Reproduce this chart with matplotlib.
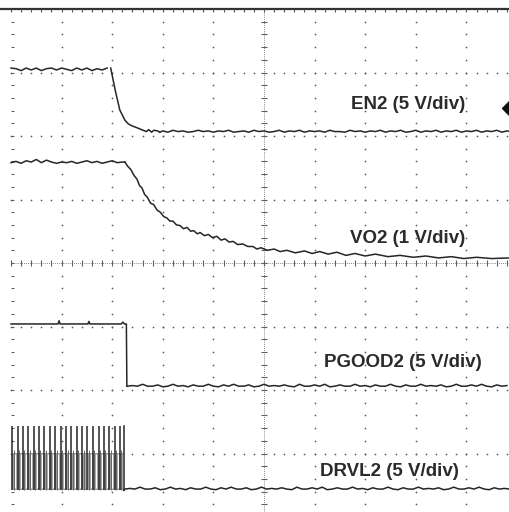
import matplotlib.pyplot as plt
import numpy as np

# scope screen: 10 x 8 divisions, values below are in divisions
# EN2 trace
en2_high = [7.07, 7.06, 7.03, 7.07, 7.04, 7.07, 7.03, 7.06, 7.07, 7.04,
            7.07, 7.05, 7.03, 7.07, 7.04, 7.07, 7.03, 7.06, 7.04, 7.07]
en2_edge_t = [1.97, 2.06, 2.15, 2.25, 2.32, 2.39, 2.49, 2.55, 2.61, 2.68, 2.72, 2.78, 2.82, 2.90, 2.94]
en2_edge_v = [7.07, 6.72, 6.41, 6.25, 6.19, 6.16, 6.13, 6.11, 6.09, 6.07, 6.10, 6.06, 6.09, 6.08, 6.06]
en2_low = [6.08, 6.06, 6.09, 6.07, 6.08, 6.06, 6.07, 6.09, 6.07, 6.08,
           6.06, 6.08, 6.07, 6.09, 6.06, 6.07, 6.08, 6.06, 6.09, 6.07,
           6.08, 6.06, 6.07, 6.09, 6.06, 6.08, 6.07, 6.09, 6.06, 6.08,
           6.07, 6.08, 6.06, 6.09, 6.07, 6.07, 6.06, 6.09, 6.07, 6.08,
           6.06, 6.08, 6.07, 6.09, 6.06, 6.08, 6.07, 6.09, 6.06, 6.07,
           6.09, 6.06, 6.08, 6.07, 6.09, 6.06, 6.08, 6.07, 6.09, 6.06,
           6.08, 6.07, 6.09, 6.06, 6.08, 6.07, 6.09, 6.06, 6.08, 6.07]

# VO2 trace
vo2_high = [5.58, 5.60, 5.57, 5.61, 5.59, 5.63, 5.58, 5.62, 5.59, 5.57, 5.59, 5.58,
            5.60, 5.57, 5.59, 5.61, 5.58, 5.60, 5.57, 5.59, 5.61, 5.58, 5.59]
vo2_fall_t = [2.25, 2.31, 2.37, 2.43, 2.49, 2.54, 2.59, 2.64, 2.69, 2.76, 2.82, 2.89, 2.95,
              3.02, 3.08, 3.14, 3.20, 3.27, 3.34, 3.41, 3.48, 3.55, 3.61, 3.68, 3.74, 3.82,
              3.90, 3.98, 4.07, 4.15, 4.23, 4.31, 4.39, 4.48, 4.58, 4.68, 4.78, 4.86, 4.94,
              5.07, 5.20, 5.32, 5.45, 5.62, 5.80, 5.95, 6.10, 6.27, 6.44, 6.62, 6.80, 7.00,
              7.20, 7.45, 7.69, 7.95, 8.20, 8.45, 8.70, 8.95, 9.20, 9.50, 9.85]
vo2_fall_v = [5.59, 5.52, 5.47, 5.38, 5.32, 5.22, 5.18, 5.08, 5.04, 4.94, 4.92, 4.83, 4.80,
              4.73, 4.71, 4.66, 4.66, 4.60, 4.59, 4.54, 4.56, 4.50, 4.51, 4.46, 4.48, 4.43,
              4.45, 4.40, 4.42, 4.36, 4.38, 4.33, 4.34, 4.29, 4.30, 4.26, 4.26, 4.22, 4.24,
              4.20, 4.22, 4.18, 4.20, 4.16, 4.19, 4.15, 4.18, 4.14, 4.17, 4.12, 4.15, 4.11,
              4.14, 4.10, 4.12, 4.09, 4.11, 4.08, 4.10, 4.07, 4.09, 4.07, 4.08]

# PGOOD2 trace
pg_high_t = [0.00, 0.93, 0.95, 0.97, 1.52, 1.54, 1.56, 2.18, 2.21, 2.24, 2.28, 2.29]
pg_high_v = [3.04, 3.04, 3.09, 3.04, 3.04, 3.08, 3.04, 3.04, 3.07, 3.04, 3.04, 2.06]
pg_low = [2.06, 2.07, 2.06, 2.09, 2.06, 2.06, 2.08, 2.05, 2.06, 2.09,
          2.06, 2.07, 2.05, 2.08, 2.06, 2.06, 2.09, 2.06, 2.05, 2.08,
          2.06, 2.09, 2.06, 2.06, 2.08, 2.05, 2.06, 2.09, 2.06, 2.07,
          2.06, 2.08, 2.06, 2.05, 2.09, 2.06, 2.06, 2.08, 2.06, 2.09,
          2.05, 2.06, 2.08, 2.06, 2.06, 2.09, 2.06, 2.07, 2.05, 2.08,
          2.06, 2.06, 2.09, 2.06, 2.05, 2.08, 2.06, 2.06, 2.09, 2.06,
          2.07, 2.06, 2.08, 2.05, 2.06, 2.09, 2.06, 2.06, 2.08, 2.06,
          2.09, 2.06, 2.05, 2.08, 2.06, 2.07]

# DRVL2 trace: switching pulses then low
drvl_pulses = [0.02, 0.13, 0.23, 0.34, 0.45, 0.55, 0.66, 0.77, 0.87, 0.98, 1.09,
               1.19, 1.30, 1.41, 1.51, 1.62, 1.73, 1.83, 1.94, 2.05, 2.15]
drvl_high, drvl_mid, drvl_base = 1.43, 1.00, 0.42
drvl_low = [0.44, 0.45, 0.44, 0.47, 0.44, 0.44, 0.46, 0.43, 0.44, 0.47,
            0.44, 0.45, 0.43, 0.46, 0.44, 0.44, 0.47, 0.44, 0.43, 0.46,
            0.44, 0.47, 0.44, 0.44, 0.46, 0.43, 0.44, 0.47, 0.44, 0.45,
            0.44, 0.46, 0.44, 0.43, 0.47, 0.44, 0.44, 0.46, 0.44, 0.47,
            0.43, 0.44, 0.46, 0.44, 0.44, 0.47, 0.44, 0.45, 0.43, 0.46,
            0.44, 0.44, 0.47, 0.44, 0.43, 0.46, 0.44, 0.44, 0.47, 0.44,
            0.45, 0.44, 0.46, 0.43, 0.44, 0.47, 0.44, 0.44, 0.46, 0.44,
            0.47, 0.44, 0.43, 0.46, 0.44, 0.45, 0.44]

labels = ['EN2 (5 V/div)', 'VO2 (1 V/div)', 'PGOOD2 (5 V/div)', 'DRVL2 (5 V/div)']
label_x = [7.85, 7.83, 7.74, 7.47]
label_y = [6.50, 4.39, 2.44, 0.72]

DT = 0.1  # sample step of the flat segments
TRACE = '#262626'
DOT = '#5e5e5e'

W, H = 509, 512
fig = plt.figure(figsize=(W / 100, H / 100), dpi=100)
ax = fig.add_axes([0, 0, 1, 1])
ax.set_xlim(-11 / 50.6, (W - 11) / 50.6)
ax.set_ylim(8 - (H - 9) / 63.5, 8 + 9 / 63.5)
ax.axis('off')

# graticule
mx = np.arange(0, 10.01, 0.2)
my = np.arange(0, 8.01, 0.2)
for gx in [1, 2, 3, 4, 6, 7, 8, 9]:
    ax.scatter(np.full_like(my, gx), my, s=1.6, color=DOT, lw=0, zorder=1)
for gy in [1, 2, 3, 5, 6, 7]:
    ax.scatter(mx, np.full_like(mx, gy), s=1.6, color=DOT, lw=0, zorder=1)
ax.plot([5, 5], [0, 8], color=DOT, lw=0.6, ls=(0, (1, 1.5)), zorder=1)
ax.plot([0, 10], [4, 4], color=DOT, lw=0.6, ls=(0, (1, 1.5)), zorder=1)
ax.hlines(my, 4.94, 5.06, color=DOT, lw=0.8, zorder=1)
ax.vlines(mx, 3.95, 4.05, color=DOT, lw=0.8, zorder=1)
ax.axhline(8, color='#333333', lw=1.6, zorder=2)
ax.vlines(mx, 7.95, 8, color='#555555', lw=0.8, zorder=2)
ax.hlines(my, 0, 0.05, color=DOT, lw=0.8, zorder=1)

# EN2
t = np.arange(len(en2_high)) * DT
ax.plot(t, en2_high, color=TRACE, lw=1.1, zorder=3)
ax.plot(en2_edge_t, en2_edge_v, color=TRACE, lw=1.1, zorder=3)
t = 3.0 + np.arange(len(en2_low)) * DT
ax.plot(np.r_[2.94, t], np.r_[6.06, en2_low], color=TRACE, lw=1.1, zorder=3)
ax.plot(9.87, 6.44, marker='D', color='#111111', ms=8, zorder=3, clip_on=False)

# VO2
t = np.arange(len(vo2_high)) * DT
ax.plot(np.r_[t, 2.25], np.r_[vo2_high, 5.59], color=TRACE, lw=1.1, zorder=3)
ax.plot(vo2_fall_t, vo2_fall_v, color=TRACE, lw=1.1, zorder=3)

# PGOOD2
ax.plot(pg_high_t, pg_high_v, color=TRACE, lw=1.1, zorder=3)
t = 2.3 + np.arange(len(pg_low)) * DT
ax.plot(np.r_[2.29, t], np.r_[2.06, pg_low], color=TRACE, lw=1.1, zorder=3)

# DRVL2
ax.fill_between([drvl_pulses[0], 2.23], drvl_base, drvl_mid, color='#9a9a9a', lw=0, zorder=2)
ax.vlines([p + 0.065 for p in drvl_pulses], drvl_base + 0.03, drvl_mid, color='white', lw=1.0, zorder=2)
ax.vlines(drvl_pulses, drvl_base, drvl_high, color=TRACE, lw=1.1, zorder=3)
ax.vlines([p + 0.03 for p in drvl_pulses], drvl_base, drvl_mid + 0.05, color='#666666', lw=0.7, zorder=3)
ax.plot([2.23, 2.23], [drvl_high, drvl_base], color=TRACE, lw=1.1, zorder=3)
t = 2.25 + np.arange(len(drvl_low)) * DT
ax.plot(np.r_[2.23, t], np.r_[drvl_base, drvl_low], color=TRACE, lw=1.1, zorder=3)

for txt, x, y in zip(labels, label_x, label_y):
    ax.text(x, y, txt, ha='center', va='center', fontsize=13.5, fontweight='bold',
            family=['Liberation Sans', 'DejaVu Sans'], color='#2b2b2b', zorder=4)

fig.savefig('out.png', dpi=100)
